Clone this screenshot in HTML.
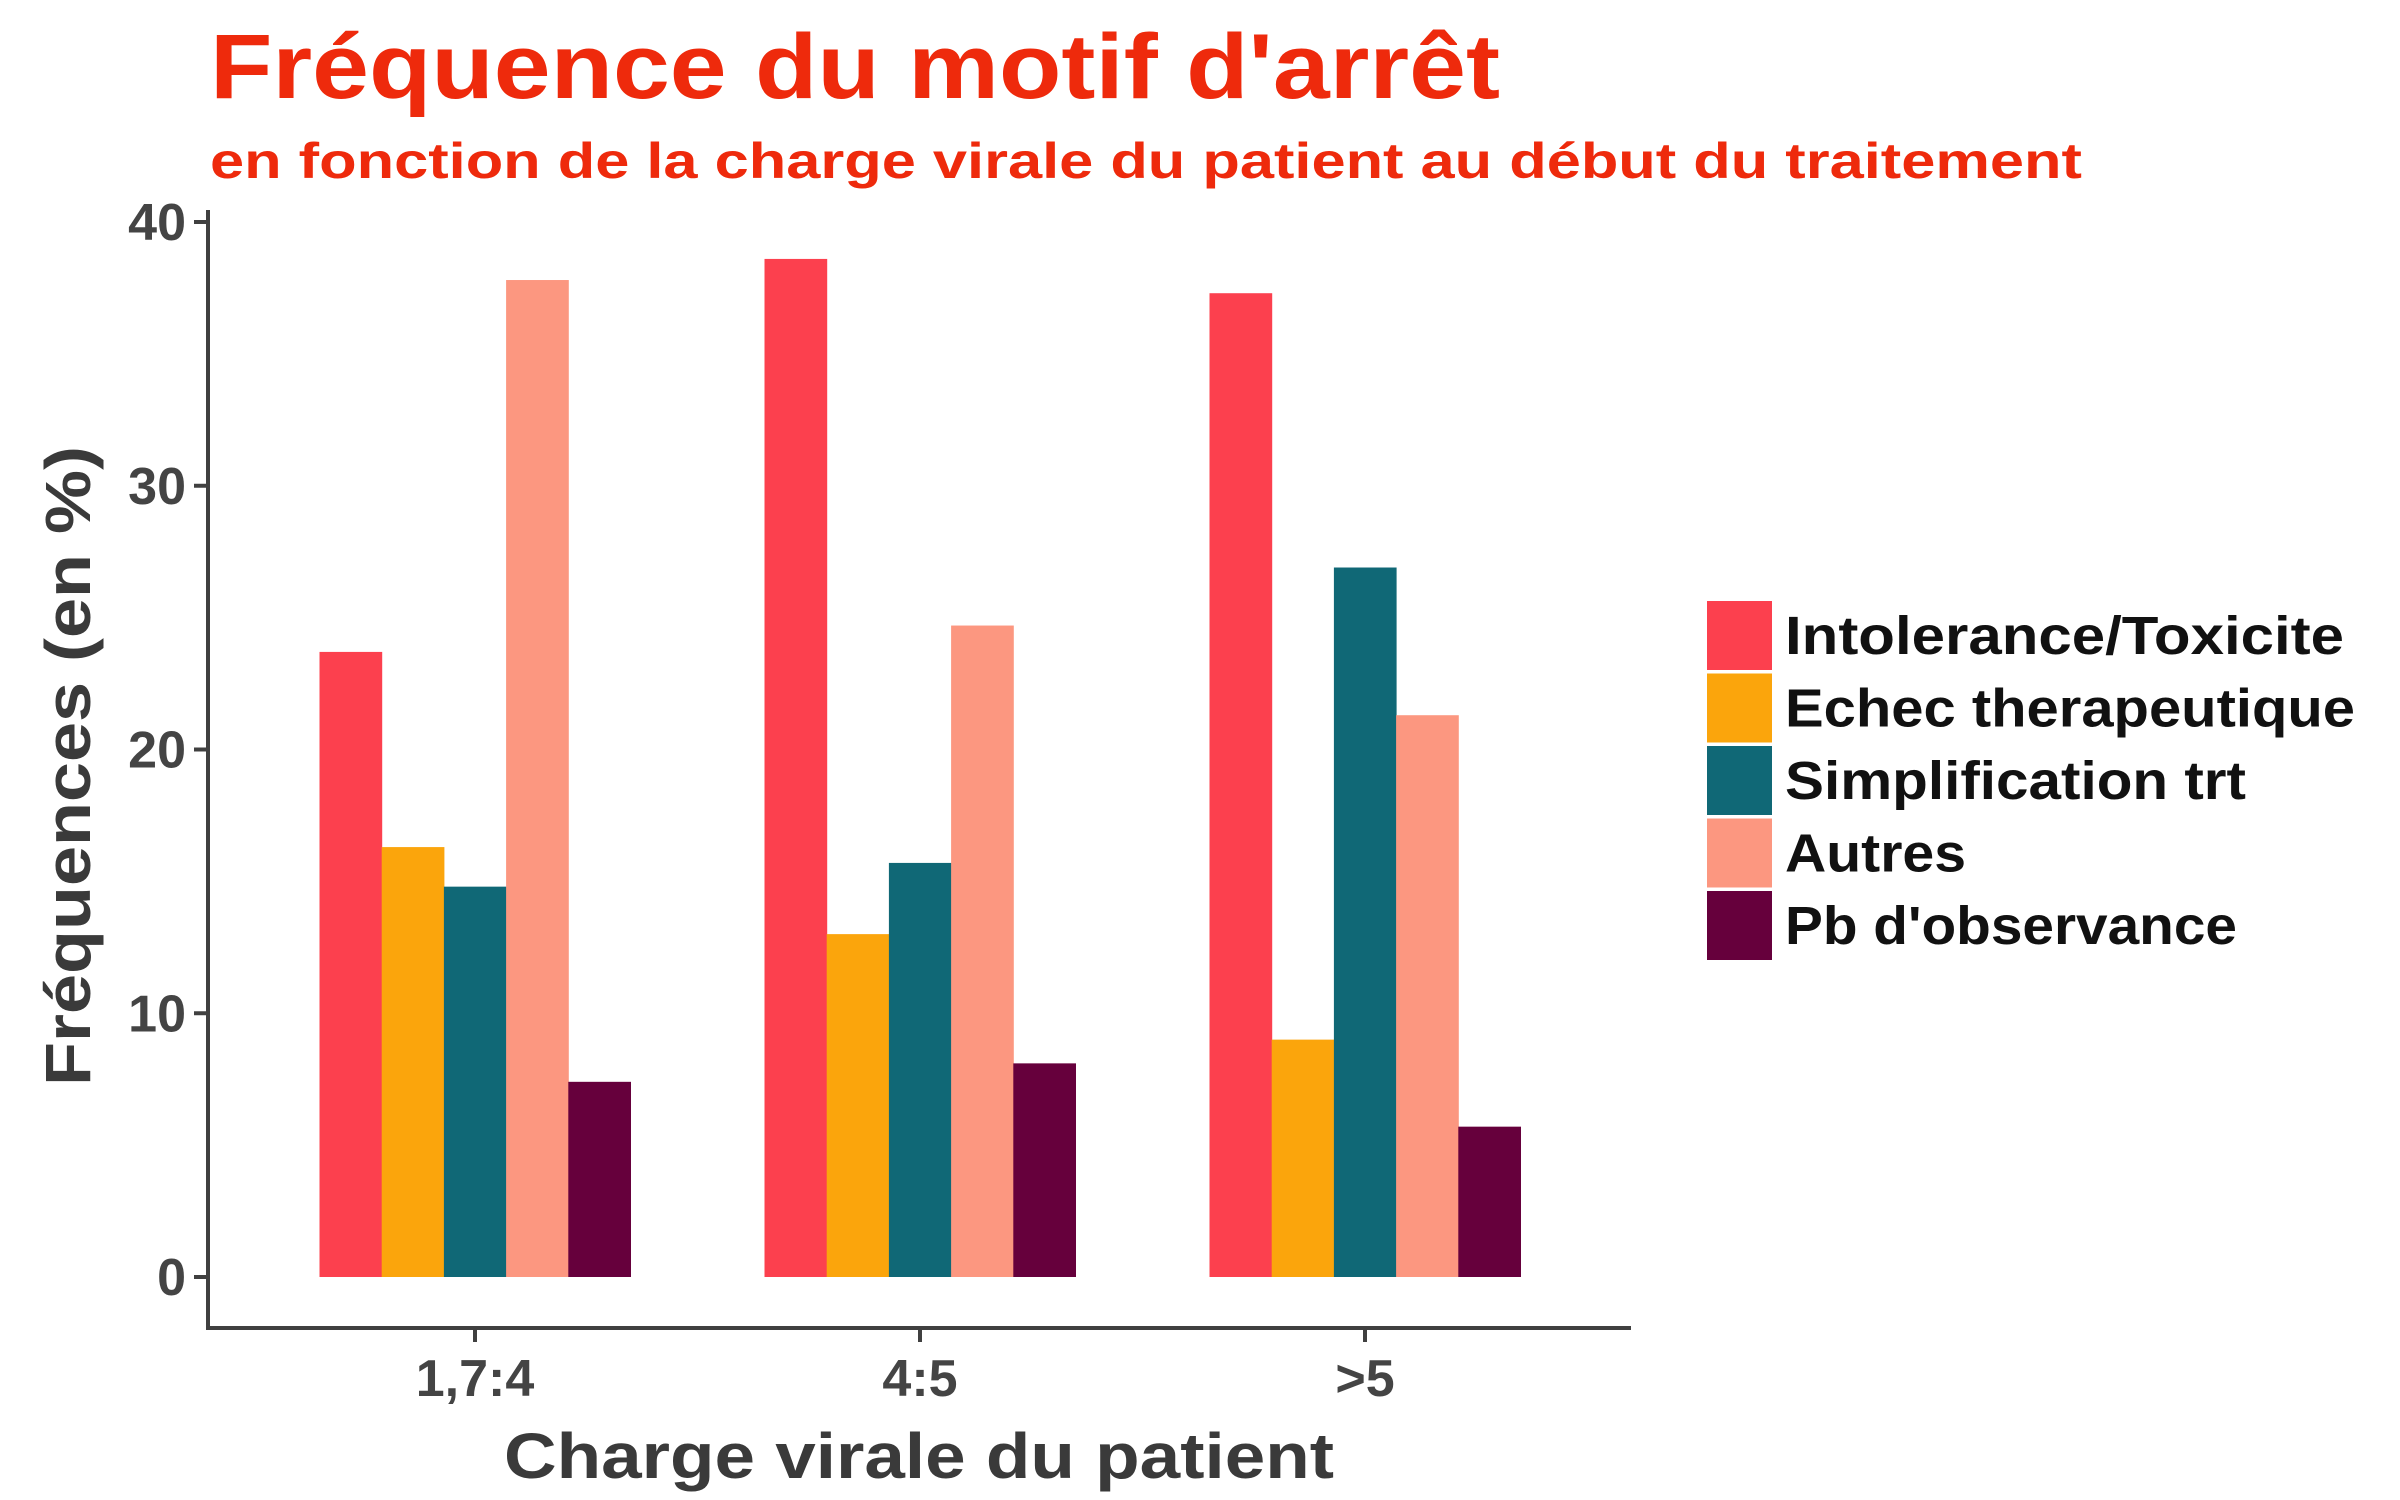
<!DOCTYPE html>
<html><head><meta charset="utf-8"><style>html,body{margin:0;padding:0;background:#fff;}svg{display:block;font-family:"Liberation Sans",sans-serif;}</style></head>
<body>
<svg id="chart" width="2400" height="1500" viewBox="0 0 2400 1500">
<text x="210" y="98" font-size="92" font-weight="bold" fill="#ee2a0c" textLength="1290" lengthAdjust="spacingAndGlyphs">Fréquence du motif d'arrêt</text>
<text x="210" y="178" font-size="50" font-weight="bold" fill="#ee2a0c" textLength="1872" lengthAdjust="spacingAndGlyphs">en fonction de la charge virale du patient au début du traitement</text>
<g id="bars"></g>
<g id="axes"></g>
<text x="919" y="1478" font-size="64" font-weight="bold" fill="#3a3a3a" text-anchor="middle" textLength="830" lengthAdjust="spacingAndGlyphs">Charge virale du patient</text>
<text transform="translate(68,766) rotate(-90)" font-size="64" font-weight="bold" fill="#3a3a3a" text-anchor="middle" dy="22" textLength="640" lengthAdjust="spacingAndGlyphs">Fréquences (en %)</text>
<g id="legend"></g>
</svg>
<script>
const categories = ["1,7:4", "4:5", ">5"];
const seriesNames = ["Intolerance/Toxicite", "Echec therapeutique", "Simplification trt", "Autres", "Pb d'observance"];
const seriesColors = ["#fc404e", "#fba50c", "#106876", "#fc9780", "#66003c"];
const intolerance = [23.7, 38.6, 37.3];
const echec = [16.3, 13.0, 9.0];
const simplification = [14.8, 15.7, 26.9];
const autres = [37.8, 24.7, 21.3];
const observance = [7.4, 8.1, 5.7];
const yTicks = [0, 10, 20, 30, 40];

const series = [intolerance, echec, simplification, autres, observance];
const legendWidths = [559, 570, 461, 181, 452];
const NS = "http://www.w3.org/2000/svg";
const x0 = 208, x1 = 1631, axisY = 1328;
const yScale = v => 1277 - v * 26.375;
const band = 445, barW = 62.2;
const xCenter = i => 475 + i * band;

const bars = document.getElementById('bars');
series.forEach((vals, s) => {
  vals.forEach((v, i) => {
    const r = document.createElementNS(NS, 'rect');
    
    
    r.setAttribute('x', xCenter(i) - 2.5 * barW + s * barW);
    r.setAttribute('y', yScale(v));
    r.setAttribute('width', barW + 0.5);
    r.setAttribute('height', yScale(0) - yScale(v));
    r.setAttribute('fill', seriesColors[s]);
    bars.appendChild(r);
  });
});

const axes = document.getElementById('axes');
function line(x1_, y1_, x2_, y2_, name) {
  const l = document.createElementNS(NS, 'line');
  
  
  l.setAttribute('x1', x1_); l.setAttribute('y1', y1_);
  l.setAttribute('x2', x2_); l.setAttribute('y2', y2_);
  l.setAttribute('stroke', '#404040'); l.setAttribute('stroke-width', 4);
  axes.appendChild(l);
}
line(x0, 210, x0, axisY + 2, 'y-axis-line');
line(x0 - 2, axisY, x1, axisY, 'x-axis-line');
yTicks.forEach(t => {
  line(x0 - 14, yScale(t), x0, yScale(t), 'y-tick');
  const tx = document.createElementNS(NS, 'text');
  
  
  tx.setAttribute('x', 186); tx.setAttribute('y', yScale(t) + 18);
  tx.setAttribute('text-anchor', 'end'); tx.setAttribute('font-size', 52);
  tx.setAttribute('font-weight', 'bold');
  tx.setAttribute('fill', '#444');
  tx.textContent = t;
  axes.appendChild(tx);
});
categories.forEach((c, i) => {
  line(xCenter(i), axisY, xCenter(i), axisY + 14, 'x-tick');
  const tx = document.createElementNS(NS, 'text');
  
  
  tx.setAttribute('x', xCenter(i)); tx.setAttribute('y', 1396);
  tx.setAttribute('text-anchor', 'middle'); tx.setAttribute('font-size', 52);
  tx.setAttribute('font-weight', 'bold');
  tx.setAttribute('fill', '#444');
  tx.textContent = c;
  axes.appendChild(tx);
});

const legend = document.getElementById('legend');
seriesNames.forEach((n, s) => {
  const y = 600 + s * 72.5;
  const r = document.createElementNS(NS, 'rect');
  
  
  r.setAttribute('x', 1707); r.setAttribute('y', y + 1);
  r.setAttribute('width', 65); r.setAttribute('height', 69);
  r.setAttribute('fill', seriesColors[s]);
  legend.appendChild(r);
  const tx = document.createElementNS(NS, 'text');
  
  
  tx.setAttribute('x', 1785); tx.setAttribute('y', y + 54);
  tx.setAttribute('font-size', 54); tx.setAttribute('fill', '#111');
  tx.setAttribute('font-weight', 'bold');
  tx.setAttribute('textLength', legendWidths[s]);
  tx.setAttribute('lengthAdjust', 'spacingAndGlyphs');
  tx.textContent = n;
  legend.appendChild(tx);
});
</script>
</body></html>
